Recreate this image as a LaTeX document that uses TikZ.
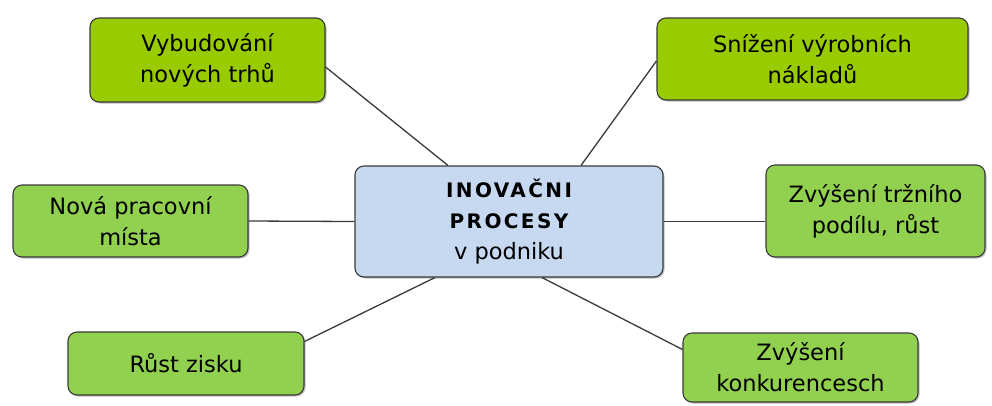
\documentclass[tikz,border=0pt]{standalone}
\usepackage{fontspec}
\setmainfont{DejaVu Sans}
\usetikzlibrary{calc,shadows}
\definecolor{limegreen}{HTML}{99CC00}
\definecolor{leafgreen}{HTML}{92D050}
\definecolor{paleblue}{HTML}{C6D9F1}
\definecolor{edgegray}{HTML}{3A3A3A}
\tikzset{
  box/.style={draw=edgegray, line width=1.1pt, rounded corners=9pt, align=center,
    inner sep=0pt, font=\fontsize{22.5}{31}\selectfont,
    drop shadow={shadow xshift=1.5pt, shadow yshift=-1.5pt, fill=black, opacity=0.25}},
  topbox/.style={box, fill=limegreen},
  sidebox/.style={box, fill=leafgreen},
  centerbox/.style={box, fill=paleblue},
  link/.style={draw=edgegray, line width=1.3pt}
}
\begin{document}
\begin{tikzpicture}[x=1pt,y=-1pt]
\useasboundingbox[fill=white] (0,0) rectangle (992,405);
\node[topbox, minimum width=235pt, minimum height=84pt] (tl) at (207.5,60) {Vybudování\\nových trhů};
\node[topbox, minimum width=311pt, minimum height=82pt] (tr) at (812.5,59) {Snížení výrobních\\nákladů};
\node[centerbox, minimum width=308pt, minimum height=111pt] (c) at (509,221.5)
  {{\fontsize{20}{28}\selectfont\addfontfeature{LetterSpace=12}\bfseries INOVAČNI}\\{\fontsize{20}{30}\selectfont\addfontfeature{LetterSpace=12}\bfseries PROCESY}\\v podniku};
\node[sidebox, minimum width=235pt, minimum height=72pt] (l) at (130.5,221) {Nová pracovní\\místa};
\node[sidebox, minimum width=219pt, minimum height=92pt] (r) at (875.5,211) {Zvýšení tržního\\podílu, růst};
\node[sidebox, minimum width=236pt, minimum height=63pt] (bl) at (186,363.5) {Růst zisku};
\node[sidebox, minimum width=235pt, minimum height=69pt] (br) at (800.5,367.5) {Zvýšení\\konkurencesch};
\draw[link] ($(tl.east)+(0,7)$) -- ($(c.north)+(-61,0)$);
\draw[link] ($(tr.west)+(0,2)$) -- ($(c.north)+(72,0)$);
\draw[link] (l.east) -- (c.west);
\draw[link] (c.east) -- (c.east -| r.west);
\draw[link] ($(c.south)+(-74,0)$) -- ($(bl.north east)+(0,10)$);
\draw[link] ($(c.south)+(33,0)$) -- ($(br.north west)+(0,17)$);
\end{tikzpicture}
\end{document}
